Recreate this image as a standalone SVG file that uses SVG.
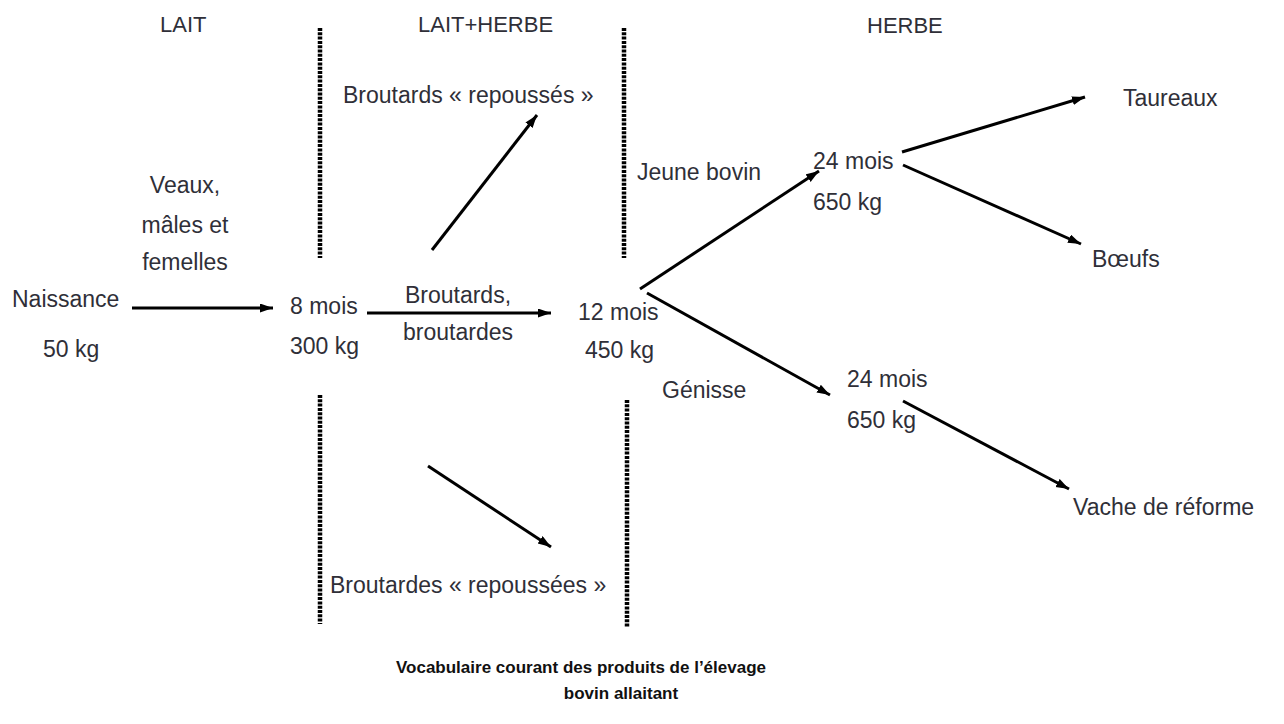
<svg xmlns="http://www.w3.org/2000/svg" width="1284" height="724" viewBox="0 0 1284 724">
<defs>
<style>
text{font-family:"Liberation Sans",Arial,sans-serif;font-size:23px;fill:#2f2f38;}
.hdr{font-size:22px;}
.mid{text-anchor:middle;}
.title{font-size:17px;font-weight:bold;fill:#111;text-anchor:middle;}
.dot{stroke:#000;stroke-width:4.5;stroke-dasharray:3 1.3;fill:none;}
.arr{stroke:#000;stroke-width:3;fill:none;marker-end:url(#ah);}
</style>
<marker id="ah" markerUnits="userSpaceOnUse" markerWidth="14" markerHeight="10" refX="13" refY="4.5" orient="auto">
<path d="M0,0 L13,4.5 L0,9 z" fill="#000"/>
</marker>
</defs>
<rect width="1284" height="724" fill="#fff"/>

<g id="dividers">
<line class="dot" x1="320" y1="28" x2="320" y2="258"/>
<line class="dot" x1="320" y1="395" x2="320" y2="624"/>
<line class="dot" x1="624" y1="28" x2="624" y2="258"/>
<line class="dot" x1="627" y1="400" x2="627" y2="628"/>
</g>

<g id="headers">
<text class="hdr" x="160" y="32">LAIT</text>
<text class="hdr" x="418" y="32">LAIT+HERBE</text>
<text class="hdr" x="867" y="33">HERBE</text>
</g>

<g id="connectors">
<line class="arr" x1="132" y1="308" x2="273" y2="308"/>
<line class="arr" x1="367" y1="313" x2="551" y2="313"/>
<line class="arr" x1="432" y1="250" x2="537" y2="115"/>
<line class="arr" x1="428" y1="466" x2="551" y2="547"/>
<line class="arr" x1="640" y1="289" x2="819" y2="171"/>
<line class="arr" x1="647" y1="293" x2="830" y2="395"/>
<line class="arr" x1="902" y1="152" x2="1085" y2="97"/>
<line class="arr" x1="903" y1="165" x2="1081" y2="244"/>
<line class="arr" x1="903" y1="401" x2="1069" y2="489"/>
</g>

<g id="naissance">
<text x="12" y="307">Naissance</text>
<text x="43" y="357">50 kg</text>
</g>

<g id="veaux-label">
<text class="mid" x="185" y="193">Veaux,</text>
<text class="mid" x="185" y="233">mâles et</text>
<text class="mid" x="185" y="270">femelles</text>
</g>

<g id="mois8">
<text x="290" y="314">8 mois</text>
<text x="290" y="354">300 kg</text>
</g>

<g id="broutards-label">
<text class="mid" x="458" y="303">Broutards,</text>
<text class="mid" x="458" y="340">broutardes</text>
</g>

<g id="broutards-repousses">
<text x="343" y="103">Broutards « repoussés »</text>
</g>

<g id="broutardes-repoussees">
<text x="330" y="593">Broutardes « repoussées »</text>
</g>

<g id="mois12">
<text x="578" y="320">12 mois</text>
<text x="585" y="358">450 kg</text>
</g>

<g id="jeune-bovin-label">
<text x="637" y="180">Jeune bovin</text>
</g>

<g id="genisse-label">
<text x="662" y="398">Génisse</text>
</g>

<g id="mois24-jb">
<text x="813" y="169">24 mois</text>
<text x="813" y="210">650 kg</text>
</g>

<g id="mois24-gen">
<text x="847" y="387">24 mois</text>
<text x="847" y="428">650 kg</text>
</g>

<g id="taureaux">
<text x="1123" y="106">Taureaux</text>
</g>

<g id="boeufs">
<text x="1092" y="267">Bœufs</text>
</g>

<g id="vache">
<text x="1073" y="515">Vache de réforme</text>
</g>

<g id="caption">
<text class="title" x="581" y="673">Vocabulaire courant des produits de l’élevage</text>
<text class="title" x="621" y="699">bovin allaitant</text>
</g>
</svg>
